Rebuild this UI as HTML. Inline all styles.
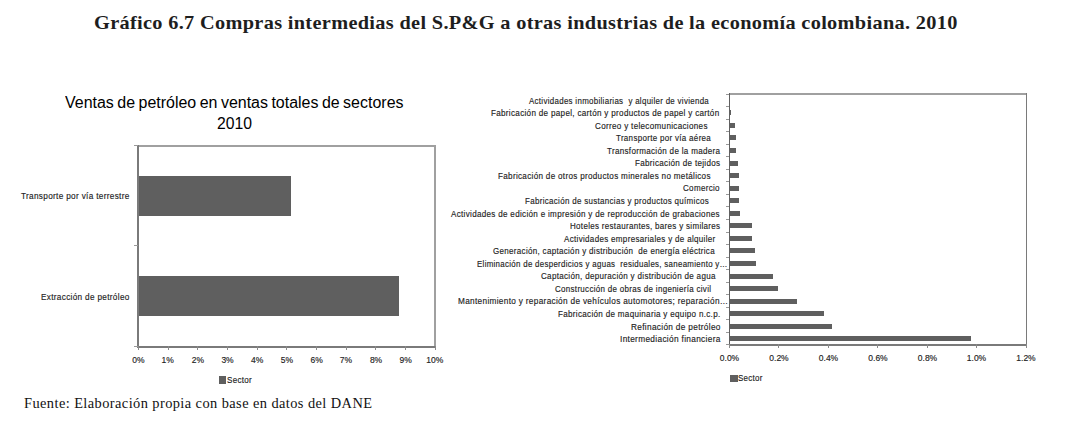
<!DOCTYPE html>
<html><head><meta charset="utf-8"><style>
html,body{margin:0;padding:0;background:#fff;}
body{width:1069px;height:441px;position:relative;overflow:hidden;}
</style></head><body>
<div style="position:absolute;left:137px;top:145px;width:299px;height:2px;background:#a0a0a0"></div>
<div style="position:absolute;left:434px;top:145px;width:2px;height:203px;background:#a0a0a0"></div>
<div style="position:absolute;left:137px;top:145px;width:2px;height:203px;background:#7a7a7a"></div>
<div style="position:absolute;left:137px;top:346px;width:299px;height:2px;background:#7a7a7a"></div>
<div style="position:absolute;left:134px;top:145px;width:4px;height:1px;background:#9a9a9a"></div>
<div style="position:absolute;left:134px;top:245px;width:4px;height:1px;background:#9a9a9a"></div>
<div style="position:absolute;left:134px;top:346px;width:4px;height:1px;background:#9a9a9a"></div>
<div style="position:absolute;left:138px;top:346px;width:1px;height:4px;background:#8a8a8a"></div>
<div style="position:absolute;left:168px;top:346px;width:1px;height:4px;background:#8a8a8a"></div>
<div style="position:absolute;left:197px;top:346px;width:1px;height:4px;background:#8a8a8a"></div>
<div style="position:absolute;left:227px;top:346px;width:1px;height:4px;background:#8a8a8a"></div>
<div style="position:absolute;left:257px;top:346px;width:1px;height:4px;background:#8a8a8a"></div>
<div style="position:absolute;left:286px;top:346px;width:1px;height:4px;background:#8a8a8a"></div>
<div style="position:absolute;left:316px;top:346px;width:1px;height:4px;background:#8a8a8a"></div>
<div style="position:absolute;left:346px;top:346px;width:1px;height:4px;background:#8a8a8a"></div>
<div style="position:absolute;left:375px;top:346px;width:1px;height:4px;background:#8a8a8a"></div>
<div style="position:absolute;left:405px;top:346px;width:1px;height:4px;background:#8a8a8a"></div>
<div style="position:absolute;left:435px;top:346px;width:1px;height:4px;background:#8a8a8a"></div>
<div style="position:absolute;left:139px;top:176px;width:152px;height:40px;background:#5f5f5f"></div>
<div style="position:absolute;left:139px;top:276px;width:260px;height:40px;background:#5f5f5f"></div>
<div style="position:absolute;left:219px;top:376px;width:7px;height:8px;background:#5f5f5f"></div>
<div style="position:absolute;left:729px;top:93px;width:298px;height:2px;background:#a0a0a0"></div>
<div style="position:absolute;left:1026px;top:93px;width:1px;height:253px;background:#7a7a7a"></div>
<div style="position:absolute;left:729px;top:93px;width:1px;height:253px;background:#606060"></div>
<div style="position:absolute;left:729px;top:344px;width:298px;height:2px;background:#7a7a7a"></div>
<div style="position:absolute;left:726px;top:94px;width:3px;height:1px;background:#999999"></div>
<div style="position:absolute;left:726px;top:106px;width:3px;height:1px;background:#999999"></div>
<div style="position:absolute;left:726px;top:119px;width:3px;height:1px;background:#999999"></div>
<div style="position:absolute;left:726px;top:131px;width:3px;height:1px;background:#999999"></div>
<div style="position:absolute;left:726px;top:144px;width:3px;height:1px;background:#999999"></div>
<div style="position:absolute;left:726px;top:156px;width:3px;height:1px;background:#999999"></div>
<div style="position:absolute;left:726px;top:169px;width:3px;height:1px;background:#999999"></div>
<div style="position:absolute;left:726px;top:181px;width:3px;height:1px;background:#999999"></div>
<div style="position:absolute;left:726px;top:194px;width:3px;height:1px;background:#999999"></div>
<div style="position:absolute;left:726px;top:206px;width:3px;height:1px;background:#999999"></div>
<div style="position:absolute;left:726px;top:219px;width:3px;height:1px;background:#999999"></div>
<div style="position:absolute;left:726px;top:232px;width:3px;height:1px;background:#999999"></div>
<div style="position:absolute;left:726px;top:244px;width:3px;height:1px;background:#999999"></div>
<div style="position:absolute;left:726px;top:257px;width:3px;height:1px;background:#999999"></div>
<div style="position:absolute;left:726px;top:269px;width:3px;height:1px;background:#999999"></div>
<div style="position:absolute;left:726px;top:282px;width:3px;height:1px;background:#999999"></div>
<div style="position:absolute;left:726px;top:294px;width:3px;height:1px;background:#999999"></div>
<div style="position:absolute;left:726px;top:307px;width:3px;height:1px;background:#999999"></div>
<div style="position:absolute;left:726px;top:319px;width:3px;height:1px;background:#999999"></div>
<div style="position:absolute;left:726px;top:332px;width:3px;height:1px;background:#999999"></div>
<div style="position:absolute;left:726px;top:344px;width:3px;height:1px;background:#999999"></div>
<div style="position:absolute;left:729px;top:344px;width:1px;height:4px;background:#8a8a8a"></div>
<div style="position:absolute;left:778px;top:344px;width:1px;height:4px;background:#8a8a8a"></div>
<div style="position:absolute;left:828px;top:344px;width:1px;height:4px;background:#8a8a8a"></div>
<div style="position:absolute;left:877px;top:344px;width:1px;height:4px;background:#8a8a8a"></div>
<div style="position:absolute;left:927px;top:344px;width:1px;height:4px;background:#8a8a8a"></div>
<div style="position:absolute;left:976px;top:344px;width:1px;height:4px;background:#8a8a8a"></div>
<div style="position:absolute;left:1026px;top:344px;width:1px;height:4px;background:#8a8a8a"></div>
<div style="position:absolute;left:730px;top:110.35px;width:0.9px;height:5px;background:#5f5f5f"></div>
<div style="position:absolute;left:730px;top:122.90px;width:4.9px;height:5px;background:#5f5f5f"></div>
<div style="position:absolute;left:730px;top:135.45px;width:6.2px;height:5px;background:#5f5f5f"></div>
<div style="position:absolute;left:730px;top:148.00px;width:6.2px;height:5px;background:#5f5f5f"></div>
<div style="position:absolute;left:730px;top:160.55px;width:8.0px;height:5px;background:#5f5f5f"></div>
<div style="position:absolute;left:730px;top:173.10px;width:8.8px;height:5px;background:#5f5f5f"></div>
<div style="position:absolute;left:730px;top:185.65px;width:8.8px;height:5px;background:#5f5f5f"></div>
<div style="position:absolute;left:730px;top:198.20px;width:9.0px;height:5px;background:#5f5f5f"></div>
<div style="position:absolute;left:730px;top:210.75px;width:9.9px;height:5px;background:#5f5f5f"></div>
<div style="position:absolute;left:730px;top:223.30px;width:22.1px;height:5px;background:#5f5f5f"></div>
<div style="position:absolute;left:730px;top:235.85px;width:22.1px;height:5px;background:#5f5f5f"></div>
<div style="position:absolute;left:730px;top:248.40px;width:25.1px;height:5px;background:#5f5f5f"></div>
<div style="position:absolute;left:730px;top:260.95px;width:26.0px;height:5px;background:#5f5f5f"></div>
<div style="position:absolute;left:730px;top:273.50px;width:43.0px;height:5px;background:#5f5f5f"></div>
<div style="position:absolute;left:730px;top:286.05px;width:48.1px;height:5px;background:#5f5f5f"></div>
<div style="position:absolute;left:730px;top:298.60px;width:67.1px;height:5px;background:#5f5f5f"></div>
<div style="position:absolute;left:730px;top:311.15px;width:93.7px;height:5px;background:#5f5f5f"></div>
<div style="position:absolute;left:730px;top:323.70px;width:102.4px;height:5px;background:#5f5f5f"></div>
<div style="position:absolute;left:730px;top:336.25px;width:240.7px;height:5px;background:#5f5f5f"></div>
<div style="position:absolute;left:730px;top:375px;width:8px;height:7px;background:#5f5f5f"></div>
<div style="position:absolute;left:93.93px;top:12.80px;font-family:'Liberation Serif', serif;font-size:19px;line-height:19px;font-weight:bold;color:#1e1e1e;white-space:nowrap;transform-origin:0 0;transform:scaleX(1.0695);letter-spacing:0.3px">Gráfico 6.7 Compras intermedias del S.P&amp;G a otras industrias de la economía colombiana. 2010</div>
<div style="position:absolute;left:24.46px;top:397.00px;font-family:'Liberation Serif', serif;font-size:13.8px;line-height:13.8px;font-weight:normal;color:#111;white-space:nowrap;transform-origin:0 0;transform:scaleX(1.0437);letter-spacing:0.4px">Fuente: Elaboración propia con base en datos del DANE</div>
<div style="position:absolute;left:65.00px;top:94.70px;font-family:'Liberation Sans', sans-serif;font-size:16px;line-height:16px;font-weight:normal;color:#000;white-space:nowrap;transform-origin:0 0;transform:scaleX(0.9985);word-spacing:-1px">Ventas de petróleo en ventas totales de sectores</div>
<div style="position:absolute;left:216.62px;top:115.70px;font-family:'Liberation Sans', sans-serif;font-size:16px;line-height:16px;font-weight:normal;color:#000;white-space:nowrap;transform-origin:0 0;transform:scaleX(0.9824);">2010</div>
<div style="position:absolute;left:21.20px;top:192.30px;font-family:'Liberation Sans', sans-serif;font-size:9px;line-height:9px;font-weight:normal;color:#222;white-space:nowrap;transform-origin:0 0;transform:scaleX(0.9127);letter-spacing:0.35px;-webkit-text-stroke:0.15px #222">Transporte por vía terrestre</div>
<div style="position:absolute;left:40.89px;top:292.70px;font-family:'Liberation Sans', sans-serif;font-size:9px;line-height:9px;font-weight:normal;color:#222;white-space:nowrap;transform-origin:0 0;transform:scaleX(0.9115);letter-spacing:0.35px;-webkit-text-stroke:0.15px #222">Extracción de petróleo</div>
<div style="position:absolute;left:226.91px;top:375.80px;font-family:'Liberation Sans', sans-serif;font-size:9px;line-height:9px;font-weight:normal;color:#222;white-space:nowrap;transform-origin:0 0;transform:scaleX(0.8926);letter-spacing:0.35px;-webkit-text-stroke:0.15px #222">Sector</div>
<div style="position:absolute;left:738.02px;top:373.80px;font-family:'Liberation Sans', sans-serif;font-size:9px;line-height:9px;font-weight:normal;color:#222;white-space:nowrap;transform-origin:0 0;transform:scaleX(0.8815);letter-spacing:0.35px;-webkit-text-stroke:0.15px #222">Sector</div>
<div style="position:absolute;left:528.50px;top:96.60px;font-family:'Liberation Sans', sans-serif;font-size:9px;line-height:9px;font-weight:normal;color:#222;white-space:nowrap;transform-origin:0 0;transform:scaleX(0.8795);letter-spacing:0.35px;-webkit-text-stroke:0.15px #222">Actividades inmobiliarias&nbsp; y alquiler de vivienda</div>
<div style="position:absolute;left:491.10px;top:109.15px;font-family:'Liberation Sans', sans-serif;font-size:9px;line-height:9px;font-weight:normal;color:#222;white-space:nowrap;transform-origin:0 0;transform:scaleX(0.8980);letter-spacing:0.35px;-webkit-text-stroke:0.15px #222">Fabricación de papel, cartón y productos de papel y cartón</div>
<div style="position:absolute;left:594.70px;top:121.70px;font-family:'Liberation Sans', sans-serif;font-size:9px;line-height:9px;font-weight:normal;color:#222;white-space:nowrap;transform-origin:0 0;transform:scaleX(0.8984);letter-spacing:0.35px;-webkit-text-stroke:0.15px #222">Correo y telecomunicaciones</div>
<div style="position:absolute;left:616.20px;top:134.25px;font-family:'Liberation Sans', sans-serif;font-size:9px;line-height:9px;font-weight:normal;color:#222;white-space:nowrap;transform-origin:0 0;transform:scaleX(0.8879);letter-spacing:0.35px;-webkit-text-stroke:0.15px #222">Transporte por vía aérea</div>
<div style="position:absolute;left:607.20px;top:146.80px;font-family:'Liberation Sans', sans-serif;font-size:9px;line-height:9px;font-weight:normal;color:#222;white-space:nowrap;transform-origin:0 0;transform:scaleX(0.8952);letter-spacing:0.35px;-webkit-text-stroke:0.15px #222">Transformación de la madera</div>
<div style="position:absolute;left:634.80px;top:159.35px;font-family:'Liberation Sans', sans-serif;font-size:9px;line-height:9px;font-weight:normal;color:#222;white-space:nowrap;transform-origin:0 0;transform:scaleX(0.8968);letter-spacing:0.35px;-webkit-text-stroke:0.15px #222">Fabricación de tejidos</div>
<div style="position:absolute;left:498.00px;top:171.90px;font-family:'Liberation Sans', sans-serif;font-size:9px;line-height:9px;font-weight:normal;color:#222;white-space:nowrap;transform-origin:0 0;transform:scaleX(0.8991);letter-spacing:0.35px;-webkit-text-stroke:0.15px #222">Fabricación de otros productos minerales no metálicos</div>
<div style="position:absolute;left:683.40px;top:184.45px;font-family:'Liberation Sans', sans-serif;font-size:9px;line-height:9px;font-weight:normal;color:#222;white-space:nowrap;transform-origin:0 0;transform:scaleX(0.8927);letter-spacing:0.35px;-webkit-text-stroke:0.15px #222">Comercio</div>
<div style="position:absolute;left:524.81px;top:197.00px;font-family:'Liberation Sans', sans-serif;font-size:9px;line-height:9px;font-weight:normal;color:#222;white-space:nowrap;transform-origin:0 0;transform:scaleX(0.8859);letter-spacing:0.35px;-webkit-text-stroke:0.15px #222">Fabricación de sustancias y productos químicos</div>
<div style="position:absolute;left:451.30px;top:209.55px;font-family:'Liberation Sans', sans-serif;font-size:9px;line-height:9px;font-weight:normal;color:#222;white-space:nowrap;transform-origin:0 0;transform:scaleX(0.8957);letter-spacing:0.35px;-webkit-text-stroke:0.15px #222">Actividades de edición e impresión y de reproducción de grabaciones</div>
<div style="position:absolute;left:569.81px;top:222.10px;font-family:'Liberation Sans', sans-serif;font-size:9px;line-height:9px;font-weight:normal;color:#222;white-space:nowrap;transform-origin:0 0;transform:scaleX(0.8887);letter-spacing:0.35px;-webkit-text-stroke:0.15px #222">Hoteles restaurantes, bares y similares</div>
<div style="position:absolute;left:564.20px;top:234.65px;font-family:'Liberation Sans', sans-serif;font-size:9px;line-height:9px;font-weight:normal;color:#222;white-space:nowrap;transform-origin:0 0;transform:scaleX(0.8929);letter-spacing:0.35px;-webkit-text-stroke:0.15px #222">Actividades empresariales y de alquiler</div>
<div style="position:absolute;left:492.70px;top:247.20px;font-family:'Liberation Sans', sans-serif;font-size:9px;line-height:9px;font-weight:normal;color:#222;white-space:nowrap;transform-origin:0 0;transform:scaleX(0.8896);letter-spacing:0.35px;-webkit-text-stroke:0.15px #222">Generación, captación y distribución&nbsp; de energía eléctrica</div>
<div style="position:absolute;left:476.82px;top:259.75px;font-family:'Liberation Sans', sans-serif;font-size:9px;line-height:9px;font-weight:normal;color:#222;white-space:nowrap;transform-origin:0 0;transform:scaleX(0.8764);letter-spacing:0.35px;-webkit-text-stroke:0.15px #222">Eliminación de desperdicios y aguas&nbsp; residuales, saneamiento y…</div>
<div style="position:absolute;left:540.80px;top:272.30px;font-family:'Liberation Sans', sans-serif;font-size:9px;line-height:9px;font-weight:normal;color:#222;white-space:nowrap;transform-origin:0 0;transform:scaleX(0.8938);letter-spacing:0.35px;-webkit-text-stroke:0.15px #222">Captación, depuración y distribución de agua</div>
<div style="position:absolute;left:555.10px;top:284.85px;font-family:'Liberation Sans', sans-serif;font-size:9px;line-height:9px;font-weight:normal;color:#222;white-space:nowrap;transform-origin:0 0;transform:scaleX(0.8858);letter-spacing:0.35px;-webkit-text-stroke:0.15px #222">Construcción de obras de ingeniería civil</div>
<div style="position:absolute;left:457.69px;top:297.40px;font-family:'Liberation Sans', sans-serif;font-size:9px;line-height:9px;font-weight:normal;color:#222;white-space:nowrap;transform-origin:0 0;transform:scaleX(0.9147);letter-spacing:0.35px;-webkit-text-stroke:0.15px #222">Mantenimiento y reparación de vehículos automotores; reparación…</div>
<div style="position:absolute;left:557.60px;top:309.95px;font-family:'Liberation Sans', sans-serif;font-size:9px;line-height:9px;font-weight:normal;color:#222;white-space:nowrap;transform-origin:0 0;transform:scaleX(0.8955);letter-spacing:0.35px;-webkit-text-stroke:0.15px #222">Fabricación de maquinaria y equipo n.c.p.</div>
<div style="position:absolute;left:630.98px;top:322.50px;font-family:'Liberation Sans', sans-serif;font-size:9px;line-height:9px;font-weight:normal;color:#222;white-space:nowrap;transform-origin:0 0;transform:scaleX(0.9177);letter-spacing:0.35px;-webkit-text-stroke:0.15px #222">Refinación de petróleo</div>
<div style="position:absolute;left:619.58px;top:335.05px;font-family:'Liberation Sans', sans-serif;font-size:9px;line-height:9px;font-weight:normal;color:#222;white-space:nowrap;transform-origin:0 0;transform:scaleX(0.9213);letter-spacing:0.35px;-webkit-text-stroke:0.15px #222">Intermediación financiera</div>
<div style="position:absolute;left:132.30px;top:355.70px;font-family:'Liberation Sans', sans-serif;font-size:8.5px;line-height:8.5px;font-weight:normal;color:#222;white-space:nowrap;transform-origin:0 0;transform:scaleX(1.0000);-webkit-text-stroke:0.15px #222">0%</div>
<div style="position:absolute;left:161.50px;top:355.70px;font-family:'Liberation Sans', sans-serif;font-size:8.5px;line-height:8.5px;font-weight:normal;color:#222;white-space:nowrap;transform-origin:0 0;transform:scaleX(1.0000);-webkit-text-stroke:0.15px #222">1%</div>
<div style="position:absolute;left:191.70px;top:355.70px;font-family:'Liberation Sans', sans-serif;font-size:8.5px;line-height:8.5px;font-weight:normal;color:#222;white-space:nowrap;transform-origin:0 0;transform:scaleX(1.0000);-webkit-text-stroke:0.15px #222">2%</div>
<div style="position:absolute;left:221.40px;top:355.70px;font-family:'Liberation Sans', sans-serif;font-size:8.5px;line-height:8.5px;font-weight:normal;color:#222;white-space:nowrap;transform-origin:0 0;transform:scaleX(1.0000);-webkit-text-stroke:0.15px #222">3%</div>
<div style="position:absolute;left:251.10px;top:355.70px;font-family:'Liberation Sans', sans-serif;font-size:8.5px;line-height:8.5px;font-weight:normal;color:#222;white-space:nowrap;transform-origin:0 0;transform:scaleX(1.0000);-webkit-text-stroke:0.15px #222">4%</div>
<div style="position:absolute;left:280.80px;top:355.70px;font-family:'Liberation Sans', sans-serif;font-size:8.5px;line-height:8.5px;font-weight:normal;color:#222;white-space:nowrap;transform-origin:0 0;transform:scaleX(1.0000);-webkit-text-stroke:0.15px #222">5%</div>
<div style="position:absolute;left:310.50px;top:355.70px;font-family:'Liberation Sans', sans-serif;font-size:8.5px;line-height:8.5px;font-weight:normal;color:#222;white-space:nowrap;transform-origin:0 0;transform:scaleX(1.0000);-webkit-text-stroke:0.15px #222">6%</div>
<div style="position:absolute;left:339.70px;top:355.70px;font-family:'Liberation Sans', sans-serif;font-size:8.5px;line-height:8.5px;font-weight:normal;color:#222;white-space:nowrap;transform-origin:0 0;transform:scaleX(1.0000);-webkit-text-stroke:0.15px #222">7%</div>
<div style="position:absolute;left:369.90px;top:355.70px;font-family:'Liberation Sans', sans-serif;font-size:8.5px;line-height:8.5px;font-weight:normal;color:#222;white-space:nowrap;transform-origin:0 0;transform:scaleX(1.0000);-webkit-text-stroke:0.15px #222">8%</div>
<div style="position:absolute;left:399.60px;top:355.70px;font-family:'Liberation Sans', sans-serif;font-size:8.5px;line-height:8.5px;font-weight:normal;color:#222;white-space:nowrap;transform-origin:0 0;transform:scaleX(1.0000);-webkit-text-stroke:0.15px #222">9%</div>
<div style="position:absolute;left:426.30px;top:355.70px;font-family:'Liberation Sans', sans-serif;font-size:8.5px;line-height:8.5px;font-weight:normal;color:#222;white-space:nowrap;transform-origin:0 0;transform:scaleX(1.0000);-webkit-text-stroke:0.15px #222">10%</div>
<div style="position:absolute;left:719.80px;top:353.90px;font-family:'Liberation Sans', sans-serif;font-size:8.5px;line-height:8.5px;font-weight:normal;color:#222;white-space:nowrap;transform-origin:0 0;transform:scaleX(1.0000);-webkit-text-stroke:0.15px #222">0.0%</div>
<div style="position:absolute;left:769.30px;top:353.90px;font-family:'Liberation Sans', sans-serif;font-size:8.5px;line-height:8.5px;font-weight:normal;color:#222;white-space:nowrap;transform-origin:0 0;transform:scaleX(1.0000);-webkit-text-stroke:0.15px #222">0.2%</div>
<div style="position:absolute;left:818.80px;top:353.90px;font-family:'Liberation Sans', sans-serif;font-size:8.5px;line-height:8.5px;font-weight:normal;color:#222;white-space:nowrap;transform-origin:0 0;transform:scaleX(1.0000);-webkit-text-stroke:0.15px #222">0.4%</div>
<div style="position:absolute;left:868.30px;top:353.90px;font-family:'Liberation Sans', sans-serif;font-size:8.5px;line-height:8.5px;font-weight:normal;color:#222;white-space:nowrap;transform-origin:0 0;transform:scaleX(1.0000);-webkit-text-stroke:0.15px #222">0.6%</div>
<div style="position:absolute;left:917.80px;top:353.90px;font-family:'Liberation Sans', sans-serif;font-size:8.5px;line-height:8.5px;font-weight:normal;color:#222;white-space:nowrap;transform-origin:0 0;transform:scaleX(1.0000);-webkit-text-stroke:0.15px #222">0.8%</div>
<div style="position:absolute;left:966.80px;top:353.90px;font-family:'Liberation Sans', sans-serif;font-size:8.5px;line-height:8.5px;font-weight:normal;color:#222;white-space:nowrap;transform-origin:0 0;transform:scaleX(1.0000);-webkit-text-stroke:0.15px #222">1.0%</div>
<div style="position:absolute;left:1016.30px;top:353.90px;font-family:'Liberation Sans', sans-serif;font-size:8.5px;line-height:8.5px;font-weight:normal;color:#222;white-space:nowrap;transform-origin:0 0;transform:scaleX(1.0000);-webkit-text-stroke:0.15px #222">1.2%</div>
</body></html>
